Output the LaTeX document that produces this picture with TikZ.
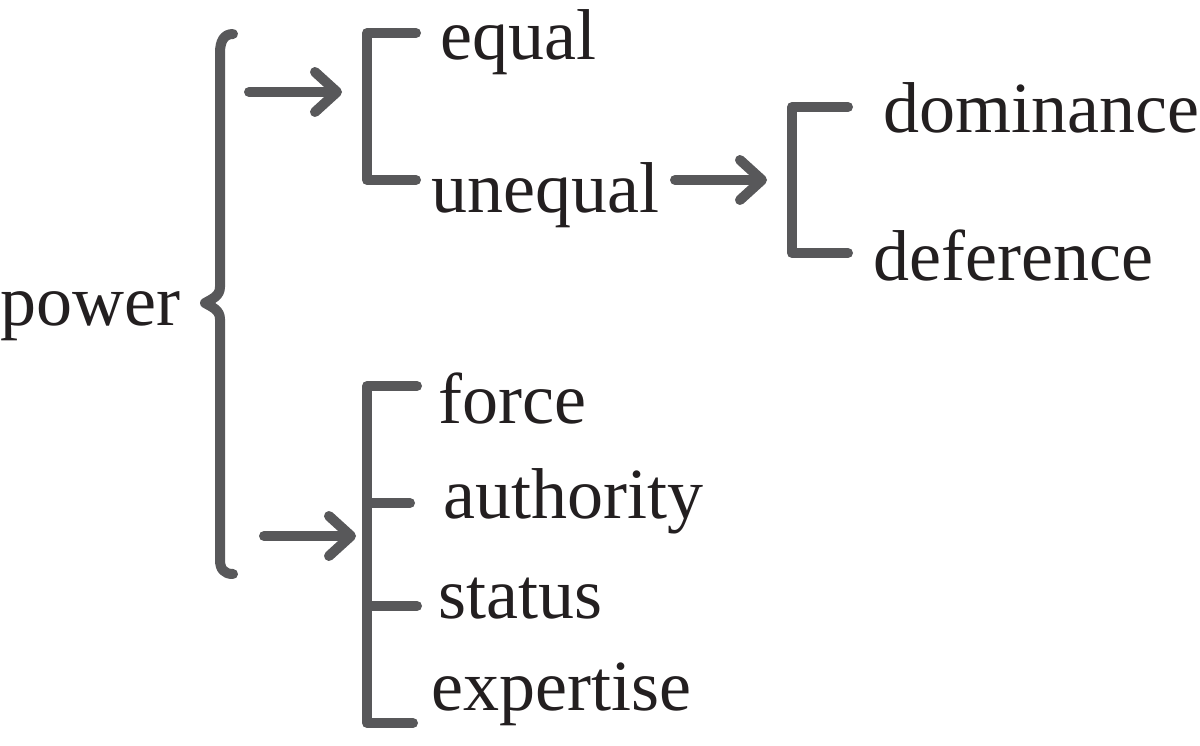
\documentclass[tikz,border=0pt]{standalone}
\usepackage{fontspec}
\setmainfont{Liberation Serif}
\usetikzlibrary{arrows.meta}
\definecolor{linegray}{HTML}{58585A}
\definecolor{txt}{HTML}{231F20}
\tikzset{
  lbl/.style={anchor=base west,inner sep=0pt,text=txt,font=\fontsize{72}{80}\selectfont},
  stroke/.style={draw=linegray,line width=10pt,line cap=round,line join=round},
  arr/.style={stroke,-{Straight Barb[length=22pt,width=40pt,line cap=round,line join=round]}}
}
\begin{document}
\begin{tikzpicture}[x=1pt,y=-1pt]
\useasboundingbox (0,0) rectangle (1200,746);
% labels
\node[lbl] (power) at (0,325) {power};
\node[lbl] (equal) at (440,60) {equal};
\node[lbl] (unequal) at (431,213) {unequal};
\node[lbl] (dominance) at (883,133) {dominance};
\node[lbl] (deference) at (873,280) {deference};
\node[lbl] (force) at (438,423) {force};
\node[lbl] (authority) at (443,518) {authority};
\node[lbl] (status) at (438,618) {status};
\node[lbl] (expertise) at (431,710) {expertise};
% brace
\draw[stroke] (233,34) .. controls (224,34) and (220,41) .. (220,53)
  -- (220,287) .. controls (220,296) and (212,299) .. (205,303)
  .. controls (212,307) and (220,310) .. (220,319)
  -- (220,560) .. controls (220,569) and (224,574) .. (233,574);
\coordinate (b1) at (249,92);
\coordinate (b2) at (264,536);
% bracket 1
\draw[stroke] (416,33) -- (367,33) -- (367,180) -- (416,180);
\coordinate (k1) at (342,92);
% bracket 2
\draw[stroke] (417,386) -- (367,386) -- (367,723) -- (413,723);
\draw[stroke] (367,503) -- (410,503);
\draw[stroke] (367,606) -- (417,606);
\coordinate (k2) at (356,536);
% bracket 3
\draw[stroke] (848,107) -- (792,107) -- (792,253) -- (848,253);
\coordinate (u) at (675,180);
\coordinate (k3) at (767,180);
% arrows
\draw[arr] (b1) -- (k1);
\draw[arr] (b2) -- (k2);
\draw[arr] (u) -- (k3);
\end{tikzpicture}
\end{document}
